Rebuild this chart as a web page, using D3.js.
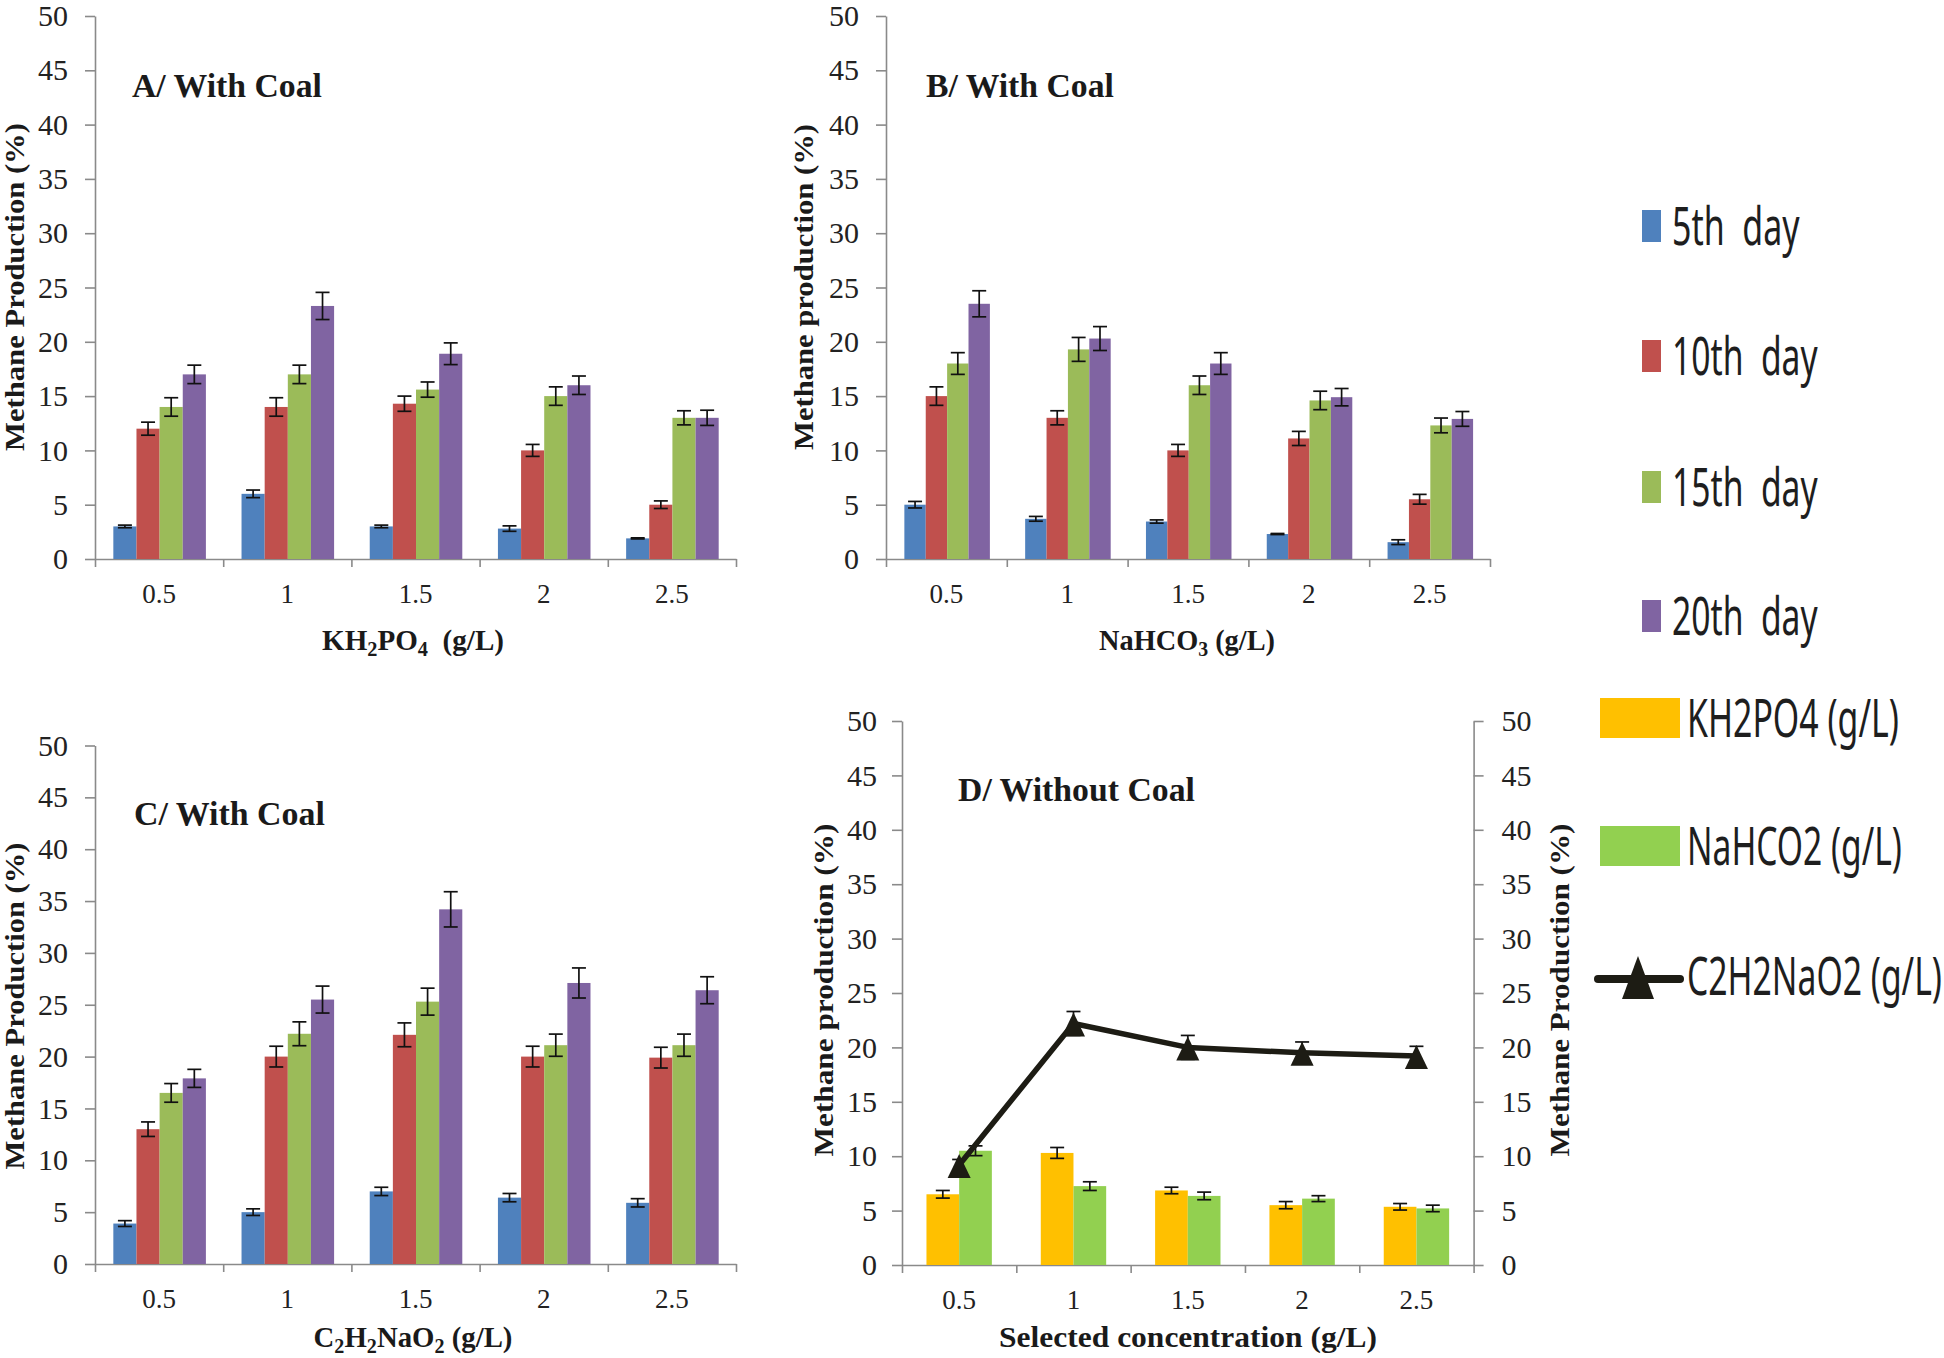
<!DOCTYPE html>
<html><head><meta charset="utf-8">
<script src="https://cdn.jsdelivr.net/npm/d3@7"></script>
<style>body{margin:0;background:#fff} svg{display:block}</style>
</head><body>
<svg id="chart" width="1944" height="1358"></svg>
<script>
// ---------------- DATA ----------------
const categories = ["0.5", "1", "1.5", "2", "2.5"];
const yTickValues = [0, 5, 10, 15, 20, 25, 30, 35, 40, 45, 50];
const daySeries = ["5th  day", "10th  day", "15th  day", "20th  day"];
const dSeries = ["KH2PO4 (g/L)", "NaHCO2 (g/L)", "C2H2NaO2 (g/L)"];

// Panel A – KH2PO4 with coal (rows: 5th,10th,15th,20th day)
const aValues = [
  [3.0, 6.0, 3.0, 2.8, 1.9],
  [12.0, 14.0, 14.3, 10.0, 5.0],
  [14.0, 17.0, 15.6, 15.0, 13.0],
  [17.0, 23.3, 18.9, 16.0, 13.0]
];
const aErrors = [
  [0.12, 0.35, 0.12, 0.25, 0.05],
  [0.6, 0.85, 0.7, 0.55, 0.35],
  [0.85, 0.85, 0.7, 0.85, 0.65],
  [0.85, 1.25, 1.0, 0.85, 0.7]
];
// Panel B – NaHCO3 with coal
const bValues = [
  [5.0, 3.7, 3.45, 2.3, 1.55],
  [15.0, 13.0, 10.0, 11.1, 5.5],
  [18.0, 19.3, 16.0, 14.6, 12.3],
  [23.5, 20.3, 18.0, 14.9, 12.9]
];
const bErrors = [
  [0.3, 0.22, 0.15, 0.05, 0.22],
  [0.85, 0.65, 0.55, 0.65, 0.45],
  [1.0, 1.1, 0.85, 0.85, 0.68],
  [1.2, 1.1, 1.0, 0.8, 0.68]
];
// Panel C – C2H2NaO2 with coal
const cValues = [
  [3.9, 5.0, 7.0, 6.4, 5.9],
  [13.0, 20.0, 22.1, 20.0, 19.9],
  [16.5, 22.2, 25.3, 21.1, 21.1],
  [17.9, 25.5, 34.2, 27.1, 26.4]
];
const cErrors = [
  [0.28, 0.32, 0.4, 0.4, 0.4],
  [0.7, 1.0, 1.15, 1.0, 1.0],
  [0.9, 1.15, 1.3, 1.07, 1.07],
  [0.87, 1.3, 1.7, 1.45, 1.3]
];
// Panel D – without coal
const dKH2PO4 = [6.5, 10.3, 6.85, 5.5, 5.35];
const dKH2PO4Err = [0.35, 0.5, 0.3, 0.33, 0.3];
const dNaHCO2 = [10.5, 7.25, 6.35, 6.1, 5.2];
const dNaHCO2Err = [0.45, 0.4, 0.35, 0.27, 0.3];
const dC2H2NaO2 = [9.2, 22.2, 20.0, 19.5, 19.2];
const dC2H2NaO2Err = [0.5, 1.1, 1.1, 1.0, 0.9];

// ---------------- STYLE ----------------
const dayColors = ["#4F81BD", "#C0504D", "#9BBB59", "#8064A2"];
const dColors = ["#FFC000", "#92D050", "#1d1c14"];
const axisColor = "#8a8a8a";
const tickFont = "'Liberation Serif', 'Times New Roman', serif";
const boldSerif = "'Liberation Serif', 'Times New Roman', serif";
const legendFont = "'Noto Sans', 'Open Sans', sans-serif";

const svg = d3.select("#chart");

function fitText(parent, opts) {
  const t = parent.append("text")
    .attr("font-family", opts.font)
    .attr("font-size", opts.size)
    .attr("font-weight", opts.weight || "normal")
    .attr("fill", opts.fill || "#1a1a1a")
    .attr("text-anchor", opts.anchor || "start")
    .style("white-space", "pre");
  if (opts.parts) {
    opts.parts.forEach(p => {
      const ts = t.append("tspan").text(p.t);
      if (p.sub) ts.attr("font-size", opts.size * 0.7).attr("dy", opts.size * 0.2);
      else if (p.keep) ts.attr("font-size", opts.size * 0.7);
      else if (p.after) ts.attr("dy", -opts.size * 0.2);
    });
  } else t.text(opts.text);
  const w = t.node().getBBox().width;
  const sx = opts.width ? opts.width / w : 1;
  const rot = opts.rotate ? ` rotate(${opts.rotate})` : "";
  t.attr("transform", `translate(${opts.x},${opts.y})${rot} scale(${sx},1)`);
  return t;
}

function styleAxis(g, size) {
  g.selectAll(".domain").attr("stroke", axisColor).attr("stroke-width", 1.6);
  g.selectAll(".tick line").attr("stroke", axisColor).attr("stroke-width", 1.6);
  g.selectAll(".tick text").attr("font-family", tickFont).attr("font-size", size).attr("fill", "#222");
}

function drawFrame(p) {
  const y = d3.scaleLinear().domain([0, 50]).range([p.bottom, p.top]);
  const x0 = d3.scaleBand().domain(categories).range([p.left, p.right]);
  const g = svg.append("g");

  g.append("g").attr("transform", `translate(${p.left},0)`)
    .call(d3.axisLeft(y).tickValues(yTickValues).tickSize(10).tickSizeOuter(0).tickPadding(p.pad))
    .call(s => styleAxis(s, 30));
  if (p.rightAxis) {
    g.append("g").attr("transform", `translate(${p.right},0)`)
      .call(d3.axisRight(y).tickValues(yTickValues).tickSize(10).tickSizeOuter(0).tickPadding(p.padR))
      .call(s => styleAxis(s, 30));
  }
  const xb = d3.scaleLinear().domain([0, categories.length]).range([p.left, p.right]);
  g.append("g").attr("transform", `translate(0,${p.bottom})`)
    .call(d3.axisBottom(xb).tickValues(d3.range(categories.length + 1)).tickSize(8).tickSizeOuter(0).tickFormat(""))
    .call(s => styleAxis(s, 27));
  const lab = g.append("g").attr("transform", `translate(0,${p.bottom})`)
    .call(d3.axisBottom(x0).tickSize(0).tickPadding(25))
    .call(s => styleAxis(s, 27));
  lab.select(".domain").remove();
  return { g, x0, y };
}

function errorBar(g, cx, y, v, e, hw) {
  const eb = g.append("g").attr("stroke", "#111").attr("stroke-width", 1.7);
  eb.append("line").attr("x1", cx).attr("x2", cx).attr("y1", y(v - e)).attr("y2", y(v + e));
  eb.append("line").attr("x1", cx - hw).attr("x2", cx + hw).attr("y1", y(v - e)).attr("y2", y(v - e));
  eb.append("line").attr("x1", cx - hw).attr("x2", cx + hw).attr("y1", y(v + e)).attr("y2", y(v + e));
}

function drawBars(fr, p, series, errors, colors) {
  const step = fr.x0.step();
  const x1 = d3.scaleBand().domain(d3.range(series.length)).range([step * p.inA, step * p.inB]);
  series.forEach((vals, si) => {
    fr.g.append("g").selectAll("rect").data(vals).join("rect")
      .attr("x", (d, i) => fr.x0(categories[i]) + x1(si))
      .attr("width", x1.bandwidth())
      .attr("y", d => fr.y(d))
      .attr("height", d => fr.y(0) - fr.y(d))
      .attr("fill", colors[si]);
  });
  series.forEach((vals, si) => {
    vals.forEach((v, i) => {
      errorBar(fr.g, fr.x0(categories[i]) + x1(si) + x1.bandwidth() / 2, fr.y, v, errors[si][i], 7);
    });
  });
}

function sub(parts) {
  const out = [];
  let prevSub = false;
  parts.forEach(([t, s]) => {
    out.push({ t, sub: s && !prevSub, after: !s && prevSub, keep: s && prevSub });
    prevSub = s;
  });
  return out;
}

// ---------------- PANELS ----------------
const pA = { left: 95, right: 736, top: 16, bottom: 559, pad: 17, inA: 0.143, inB: 0.865 };
const pB = { left: 886, right: 1490, top: 16, bottom: 559, pad: 17, inA: 0.152, inB: 0.86 };
const pC = { left: 95, right: 736, top: 745.5, bottom: 1264, pad: 17, inA: 0.143, inB: 0.865 };
const pD = { left: 902, right: 1473.6, top: 721, bottom: 1265, pad: 15, padR: 18, inA: 0.214, inB: 0.786, rightAxis: true };

const fA = drawFrame(pA); drawBars(fA, pA, aValues, aErrors, dayColors);
const fB = drawFrame(pB); drawBars(fB, pB, bValues, bErrors, dayColors);
const fC = drawFrame(pC); drawBars(fC, pC, cValues, cErrors, dayColors);
const fD = drawFrame(pD); drawBars(fD, pD, [dKH2PO4, dNaHCO2], [dKH2PO4Err, dNaHCO2Err], dColors);

// line in panel D
const triangleSym = {
  draw(ctx, size) {
    const h = Math.sqrt(size);
    ctx.moveTo(0, -h / 2);
    ctx.lineTo(h * 0.48, h / 2);
    ctx.lineTo(-h * 0.48, h / 2);
    ctx.closePath();
  }
};
const cxD = i => fD.x0(categories[i]) + fD.x0.bandwidth() / 2;
dC2H2NaO2.forEach((v, i) => errorBar(fD.g, cxD(i), fD.y, v, dC2H2NaO2Err[i], 7));
fD.g.append("path").datum(dC2H2NaO2)
  .attr("d", d3.line().x((d, i) => cxD(i)).y(d => fD.y(d)))
  .attr("fill", "none").attr("stroke", dColors[2]).attr("stroke-width", 5.5).attr("stroke-linejoin", "round");
fD.g.append("g").selectAll("path").data(dC2H2NaO2).join("path")
  .attr("d", d3.symbol(triangleSym, 24 * 24)())
  .attr("transform", (d, i) => `translate(${cxD(i)},${fD.y(d) + 1})`)
  .attr("fill", dColors[2]);

// ---------------- TEXTS ----------------
fitText(svg, { text: "A/ With Coal", font: boldSerif, weight: "bold", size: 34, x: 132, y: 97, width: 190 });
fitText(svg, { text: "B/ With Coal", font: boldSerif, weight: "bold", size: 34, x: 926, y: 97, width: 188 });
fitText(svg, { text: "C/ With Coal", font: boldSerif, weight: "bold", size: 34, x: 134, y: 825, width: 191 });
fitText(svg, { text: "D/ Without Coal", font: boldSerif, weight: "bold", size: 34, x: 958, y: 801, width: 237 });

const yt = (text, x, y, w) => fitText(svg, { text, font: boldSerif, weight: "bold", size: 28, x, y, width: w, anchor: "middle", rotate: -90 });
yt("Methane Production (%)", 24, 287, 328);
yt("Methane production (%)", 813, 287, 326);
yt("Methane Production (%)", 24, 1006, 327);
yt("Methane production (%)", 833, 990, 333);
yt("Methane Production (%)", 1569, 990, 333);

fitText(svg, { parts: sub([["KH", false], ["2", true], ["PO", false], ["4", true], ["  (g/L)", false]]), font: boldSerif, weight: "bold", size: 30, x: 413, y: 650, width: 182, anchor: "middle" });
fitText(svg, { parts: sub([["NaHCO", false], ["3", true], [" (g/L)", false]]), font: boldSerif, weight: "bold", size: 30, x: 1187, y: 650, width: 176, anchor: "middle" });
fitText(svg, { parts: sub([["C", false], ["2", true], ["H", false], ["2", true], ["NaO", false], ["2", true], [" (g/L)", false]]), font: boldSerif, weight: "bold", size: 29, x: 413, y: 1347, width: 199, anchor: "middle" });
fitText(svg, { text: "Selected concentration (g/L)", font: boldSerif, weight: "bold", size: 29, x: 1188, y: 1347, width: 378, anchor: "middle" });

// ---------------- LEGEND ----------------
const leg = svg.append("g");
const dayLegY = [245, 375, 506, 635];
const dayLegW = [128, 146, 146, 146];
daySeries.forEach((s, i) => {
  leg.append("rect").attr("x", 1642).attr("y", dayLegY[i] - 35).attr("width", 19).attr("height", 32).attr("fill", dayColors[i]);
  fitText(leg, { text: s, font: legendFont, size: 52, x: 1672, y: dayLegY[i], width: dayLegW[i], fill: "#1e1e1e" });
});
const dLegY = [737, 865, 995];
const dLegW = [212, 215, 255];
dSeries.forEach((s, i) => {
  if (i < 2) {
    leg.append("rect").attr("x", 1600).attr("y", dLegY[i] - 39).attr("width", 80).attr("height", 40).attr("fill", dColors[i]);
  } else {
    leg.append("line").attr("x1", 1598).attr("x2", 1680).attr("y1", 979).attr("y2", 979)
      .attr("stroke", dColors[2]).attr("stroke-width", 8).attr("stroke-linecap", "round");
    leg.append("path").attr("d", "M1638,956 L1654,999 L1622,999 Z").attr("fill", dColors[2]);
  }
  fitText(leg, { text: s, font: legendFont, size: 52, x: 1687, y: dLegY[i], width: dLegW[i], fill: "#1e1e1e" });
});
</script>
</body></html>
